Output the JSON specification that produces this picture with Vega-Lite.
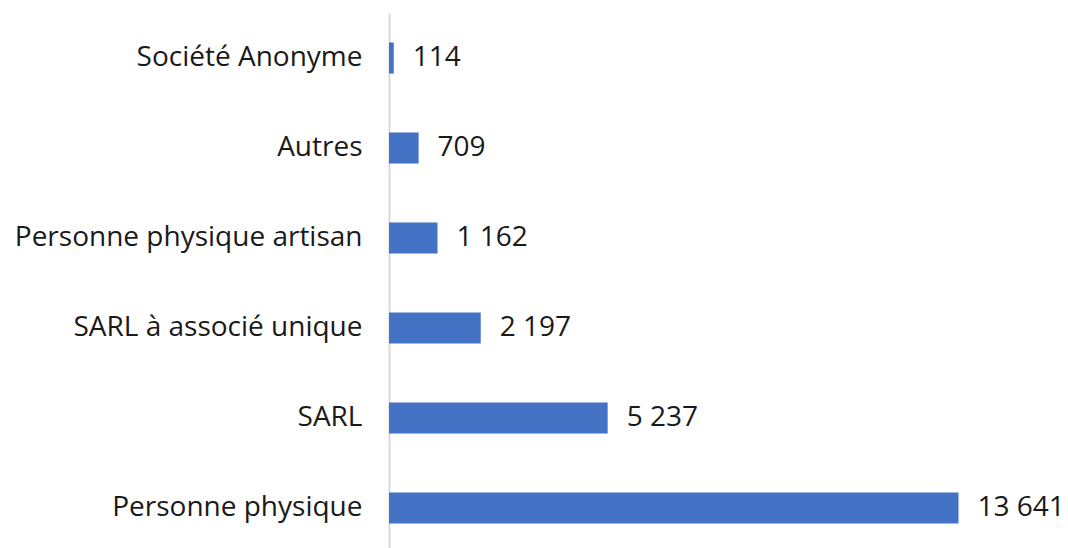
{
  "$schema": "https://vega.github.io/schema/vega-lite/v6.json",
  "width": 668,
  "height": 540,
  "autosize": {"type": "none"},
  "padding": {"left": 389, "top": 13, "right": 11, "bottom": 0},
  "background": "white",
  "config": {
    "view": {"stroke": null},
    "font": "Open Sans",
    "locale": {"number": {"decimal": ",", "thousands": " ", "grouping": [3], "currency": ["", " €"]}}
  },
  "data": {
    "values": [
      {"forme": "Société Anonyme", "nombre": 114},
      {"forme": "Autres", "nombre": 709},
      {"forme": "Personne physique artisan", "nombre": 1162},
      {"forme": "SARL à associé unique", "nombre": 2197},
      {"forme": "SARL", "nombre": 5237},
      {"forme": "Personne physique", "nombre": 13641}
    ]
  },
  "encoding": {
    "y": {
      "field": "forme",
      "type": "nominal",
      "sort": {"field": "nombre", "order": "ascending"},
      "scale": {"paddingInner": 0.655, "paddingOuter": 0.3275},
      "axis": {
        "title": null,
        "ticks": false,
        "labelPadding": 27,
        "labelFontSize": 28,
        "labelColor": "#1a1a1a",
        "labelLimit": 500,
        "domainColor": "#d9d9d9",
        "domainWidth": 2
      }
    },
    "x": {
      "field": "nombre",
      "type": "quantitative",
      "scale": {"domain": [0, 16000], "nice": false},
      "axis": null
    }
  },
  "layer": [
    {"mark": {"type": "bar", "color": "#4472C4", "cornerRadius": 0}},
    {
      "mark": {"type": "text", "align": "left", "baseline": "middle", "dx": 19, "fontSize": 28, "color": "#1a1a1a"},
      "encoding": {"text": {"field": "nombre", "type": "quantitative", "format": ",d"}}
    }
  ]
}
